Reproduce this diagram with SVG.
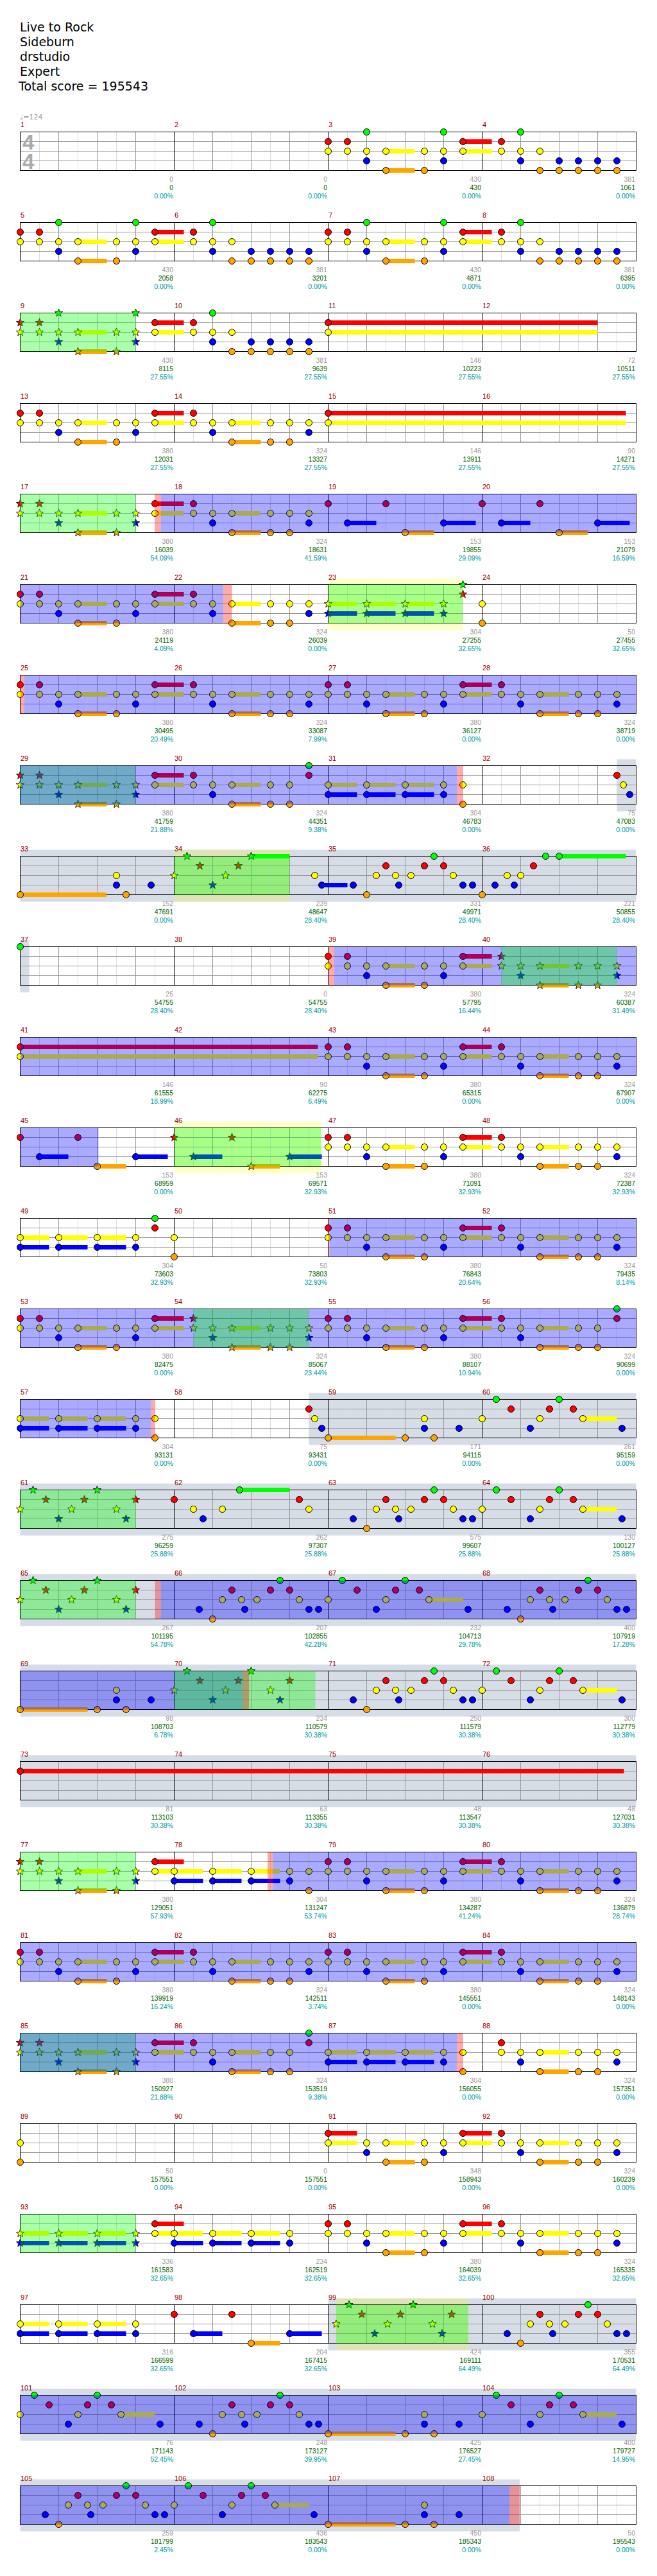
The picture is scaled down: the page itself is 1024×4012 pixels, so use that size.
<svg xmlns="http://www.w3.org/2000/svg" width="1024" height="4012" viewBox="0 0 1024 4012">
<style>
.lt{stroke:#ddd;fill:none}
.ln{stroke:#999;fill:none}
.lk{stroke:#000;fill:none}
.hg{fill:#0f0}.hr{fill:#f00}.hy{fill:#ff0}.hb{fill:#00f}.ho{fill:#ffa500}
.og{fill:#0f0;fill-opacity:.333}.ob{fill:#00f;fill-opacity:.333}.op{fill:#f00;fill-opacity:.333}
.os{fill:#b0bcd0;fill-opacity:.5}.oy{fill:#ff0;fill-opacity:.2}
.t{font-family:"DejaVu Sans",sans-serif;font-size:19px;fill:#000}
.mn{font-family:"Liberation Sans",Arial,sans-serif;font-size:11px;fill:#8b0000}
.s1,.s2,.s3{font-family:"Liberation Sans",Arial,sans-serif;font-size:10.5px;text-anchor:end}
.s1{fill:#999}.s2{fill:#006400}.s3{fill:#009999}
</style>
<defs>
<circle id="ng" r="5" fill="#0f0" stroke="#000"/>
<circle id="nr" r="5" fill="#f00" stroke="#000"/>
<circle id="ny" r="5" fill="#ff0" stroke="#000"/>
<circle id="nb" r="5" fill="#00f" stroke="#000"/>
<circle id="no" r="5" fill="#ffa500" stroke="#000"/>
<path id="sg" d="M0-6.5L1.6-2.2 6.2-2 2.6.8 3.8 5.3 0 2.7-3.8 5.3-2.6.8-6.2-2-1.6-2.2Z" fill="#0f0" stroke="#000" stroke-width=".8"/>
<path id="sr" d="M0-6.5L1.6-2.2 6.2-2 2.6.8 3.8 5.3 0 2.7-3.8 5.3-2.6.8-6.2-2-1.6-2.2Z" fill="#f00" stroke="#000" stroke-width=".8"/>
<path id="sy" d="M0-6.5L1.6-2.2 6.2-2 2.6.8 3.8 5.3 0 2.7-3.8 5.3-2.6.8-6.2-2-1.6-2.2Z" fill="#ff0" stroke="#000" stroke-width=".8"/>
<path id="sb" d="M0-6.5L1.6-2.2 6.2-2 2.6.8 3.8 5.3 0 2.7-3.8 5.3-2.6.8-6.2-2-1.6-2.2Z" fill="#00f" stroke="#000" stroke-width=".8"/>
<path id="so" d="M0-6.5L1.6-2.2 6.2-2 2.6.8 3.8 5.3 0 2.7-3.8 5.3-2.6.8-6.2-2-1.6-2.2Z" fill="#ffa500" stroke="#000" stroke-width=".8"/>
<g id="row">
<path class="lt" d="M30 0v60M90 0v60M150 0v60M210 0v60M270 0v60M330 0v60M390 0v60M450 0v60M510 0v60M570 0v60M630 0v60M690 0v60M750 0v60M810 0v60M870 0v60M930 0v60"/>
<path class="ln" d="M60 0v60M120 0v60M180 0v60M300 0v60M360 0v60M420 0v60M540 0v60M600 0v60M660 0v60M780 0v60M840 0v60M900 0v60M0 15H960M0 30H960M0 45H960"/>
<path class="lk" d="M240 0v60M480 0v60M720 0v60"/>
<rect class="lk" width="960" height="60"/>
</g>
<g id="pA0"><rect class="hy" x="90" y="26.5" width="45" height="7"/><rect class="ho" x="90" y="56.5" width="45" height="7"/><use href="#nr" y="15"/><use href="#ny" y="30"/><use href="#nr" x="30" y="15"/><use href="#ny" x="30" y="30"/><use href="#ny" x="60" y="30"/><use href="#nb" x="60" y="45"/><use href="#ny" x="90" y="30"/><use href="#no" x="90" y="60"/><use href="#ny" x="150" y="30"/><use href="#no" x="150" y="60"/><use href="#ny" x="180" y="30"/><use href="#nb" x="180" y="45"/></g>
<g id="sA0"><rect class="hy" x="90" y="26.5" width="45" height="7"/><rect class="ho" x="90" y="56.5" width="45" height="7"/><use href="#sr" y="15"/><use href="#sy" y="30"/><use href="#sr" x="30" y="15"/><use href="#sy" x="30" y="30"/><use href="#sy" x="60" y="30"/><use href="#sb" x="60" y="45"/><use href="#sy" x="90" y="30"/><use href="#so" x="90" y="60"/><use href="#sy" x="150" y="30"/><use href="#so" x="150" y="60"/><use href="#sy" x="180" y="30"/><use href="#sb" x="180" y="45"/></g>
<g id="pT"><rect class="hr" x="210" y="11.5" width="45" height="7"/><rect class="hy" x="210" y="26.5" width="45" height="7"/><use href="#nr" x="210" y="15"/><use href="#ny" x="210" y="30"/></g>
<g id="pA"><use href="#pA0"/><use href="#pT"/></g>
<g id="pAg"><use href="#pA"/><use href="#ng" x="60"/><use href="#ng" x="180"/></g>
<g id="pB"><use href="#nr" x="30" y="15"/><use href="#ny" x="30" y="30"/><use href="#ng" x="60"/><use href="#ny" x="60" y="30"/><use href="#nb" x="60" y="45"/><use href="#ny" x="90" y="30"/><use href="#no" x="90" y="60"/><use href="#nb" x="120" y="45"/><use href="#no" x="120" y="60"/><use href="#nb" x="150" y="45"/><use href="#no" x="150" y="60"/><use href="#nb" x="180" y="45"/><use href="#no" x="180" y="60"/><use href="#nb" x="210" y="45"/><use href="#no" x="210" y="60"/></g>
<g id="pD0"><rect class="hy" x="90" y="26.5" width="45" height="7"/><rect class="ho" x="90" y="56.5" width="45" height="7"/><use href="#nr" x="30" y="15"/><use href="#ny" x="30" y="30"/><use href="#ny" x="60" y="30"/><use href="#nb" x="60" y="45"/><use href="#ny" x="90" y="30"/><use href="#no" x="90" y="60"/><use href="#ny" x="150" y="30"/><use href="#no" x="150" y="60"/><use href="#ny" x="180" y="30"/><use href="#no" x="180" y="60"/></g>
<g id="pD"><use href="#pD0"/><use href="#ny" x="210" y="30"/><use href="#nb" x="210" y="45"/></g>
<g id="sD"><rect class="hy" x="90" y="26.5" width="45" height="7"/><rect class="ho" x="90" y="56.5" width="45" height="7"/><use href="#sr" x="30" y="15"/><use href="#sy" x="30" y="30"/><use href="#sy" x="60" y="30"/><use href="#sb" x="60" y="45"/><use href="#sy" x="90" y="30"/><use href="#so" x="90" y="60"/><use href="#sy" x="150" y="30"/><use href="#so" x="150" y="60"/><use href="#sy" x="180" y="30"/><use href="#so" x="180" y="60"/><use href="#sy" x="210" y="30"/><use href="#sb" x="210" y="45"/></g>
<g id="pC"><rect class="hb" x="30" y="41.5" width="45" height="7"/><rect class="ho" x="120" y="56.5" width="45" height="7"/><rect class="hb" x="180" y="41.5" width="50" height="7"/><use href="#nr" y="15"/><use href="#nb" x="30" y="45"/><use href="#nr" x="90" y="15"/><use href="#no" x="120" y="60"/><use href="#nb" x="180" y="45"/></g>
<g id="sC"><rect class="hb" x="30" y="41.5" width="45" height="7"/><rect class="ho" x="120" y="56.5" width="45" height="7"/><rect class="hb" x="180" y="41.5" width="50" height="7"/><use href="#sr" y="15"/><use href="#sb" x="30" y="45"/><use href="#sr" x="90" y="15"/><use href="#so" x="120" y="60"/><use href="#sb" x="180" y="45"/></g>
<g id="pE"><rect class="hy" y="26.5" width="45" height="7"/><rect class="hb" y="41.5" width="45" height="7"/><rect class="hy" x="60" y="26.5" width="45" height="7"/><rect class="hb" x="60" y="41.5" width="45" height="7"/><rect class="hy" x="120" y="26.5" width="45" height="7"/><rect class="hb" x="120" y="41.5" width="45" height="7"/><use href="#ny" y="30"/><use href="#nb" y="45"/><use href="#ny" x="60" y="30"/><use href="#nb" x="60" y="45"/><use href="#ny" x="120" y="30"/><use href="#nb" x="120" y="45"/><use href="#ny" x="180" y="30"/><use href="#nb" x="180" y="45"/></g>
<g id="sE"><rect class="hy" y="26.5" width="45" height="7"/><rect class="hb" y="41.5" width="45" height="7"/><rect class="hy" x="60" y="26.5" width="45" height="7"/><rect class="hb" x="60" y="41.5" width="45" height="7"/><rect class="hy" x="120" y="26.5" width="45" height="7"/><rect class="hb" x="120" y="41.5" width="45" height="7"/><use href="#sy" y="30"/><use href="#sb" y="45"/><use href="#sy" x="60" y="30"/><use href="#sb" x="60" y="45"/><use href="#sy" x="120" y="30"/><use href="#sb" x="120" y="45"/><use href="#sy" x="180" y="30"/><use href="#sb" x="180" y="45"/></g>
<g id="q1"><use href="#nb" x="39" y="45"/><use href="#no" x="60" y="60"/><use href="#ny" x="75" y="30"/><use href="#nr" x="90" y="15"/><use href="#ny" x="105" y="30"/><use href="#nb" x="110" y="45"/><use href="#ny" x="129" y="30"/><use href="#nr" x="150" y="15"/><use href="#ng" x="165"/><use href="#nr" x="180" y="15"/><use href="#ny" x="195" y="30"/><use href="#nb" x="210" y="45"/><use href="#nb" x="225" y="45"/></g>
<g id="q3"><rect class="ho" y="56.5" width="105" height="7"/><use href="#no" y="60"/><use href="#no" x="120" y="60"/><use href="#ny" x="150" y="30"/><use href="#nb" x="150" y="45"/><use href="#no" x="165" y="60"/><use href="#nb" x="204" y="45"/></g>
<g id="q4"><use href="#ny" y="30"/><use href="#ng" x="22"/><use href="#nr" x="45" y="15"/><use href="#nb" x="75" y="45"/><use href="#ny" x="90" y="30"/><use href="#nr" x="105" y="15"/><use href="#ng" x="120"/><use href="#nr" x="142" y="15"/><rect class="hy" x="157" y="26.5" width="53" height="7"/><use href="#ny" x="157" y="30"/><use href="#nb" x="218" y="45"/></g>
<g id="qs"><use href="#sy" y="30"/><use href="#sg" x="20"/><use href="#sr" x="40" y="15"/><use href="#sb" x="60" y="45"/><use href="#sy" x="80" y="30"/><use href="#sr" x="100" y="15"/><use href="#sg" x="120"/><use href="#sy" x="150" y="30"/><use href="#sb" x="165" y="45"/><use href="#sr" x="180" y="15"/></g>
</defs>
<rect width="1024" height="4012" fill="#fff"/>
<g id="title" class="t"><text x="31" y="49">Live to Rock</text><text x="31" y="72">Sideburn</text><text x="31" y="95">drstudio</text><text x="31" y="118">Expert</text><text x="29" y="141">Total score = 195543</text></g>
<text x="31" y="186" font-family="DejaVu Sans,sans-serif" font-size="11" fill="#999">♩=124</text>
<g id="bg">
<rect class="oy" x="511.5" y="900.5" width="210" height="81"/>
<rect class="os" x="961.5" y="1182.5" width="30" height="81"/>
<rect class="os" x="31.5" y="1323.5" width="960" height="81"/><rect class="oy" x="271.5" y="1323.5" width="180" height="81"/>
<rect class="os" x="31.5" y="1464.5" width="14" height="81"/>
<rect class="oy" x="271.5" y="1746.5" width="229" height="81"/>
<rect class="os" x="481.5" y="2169.5" width="510" height="81"/>
<rect class="os" x="31.5" y="2310.5" width="960" height="81"/>
<rect class="os" x="31.5" y="2451.5" width="960" height="81"/>
<rect class="os" x="31.5" y="2592.5" width="960" height="81"/>
<rect class="os" x="31.5" y="2733.5" width="960" height="81"/>
<rect class="os" x="511.5" y="3579.5" width="480" height="81"/><rect class="oy" x="524" y="3579.5" width="206" height="81"/>
<rect class="os" x="31.5" y="3720.5" width="960" height="81"/>
<rect class="os" x="31.5" y="3861.5" width="778.5" height="81"/>
</g>
<g id="grid">
<use href="#row" x="31.5" y="205.5"/><use href="#row" x="31.5" y="346.5"/><use href="#row" x="31.5" y="487.5"/><use href="#row" x="31.5" y="628.5"/><use href="#row" x="31.5" y="769.5"/><use href="#row" x="31.5" y="910.5"/><use href="#row" x="31.5" y="1051.5"/><use href="#row" x="31.5" y="1192.5"/><use href="#row" x="31.5" y="1333.5"/><use href="#row" x="31.5" y="1474.5"/><use href="#row" x="31.5" y="1615.5"/><use href="#row" x="31.5" y="1756.5"/><use href="#row" x="31.5" y="1897.5"/><use href="#row" x="31.5" y="2038.5"/><use href="#row" x="31.5" y="2179.5"/><use href="#row" x="31.5" y="2320.5"/><use href="#row" x="31.5" y="2461.5"/><use href="#row" x="31.5" y="2602.5"/><use href="#row" x="31.5" y="2743.5"/><use href="#row" x="31.5" y="2884.5"/><use href="#row" x="31.5" y="3025.5"/><use href="#row" x="31.5" y="3166.5"/><use href="#row" x="31.5" y="3307.5"/><use href="#row" x="31.5" y="3448.5"/><use href="#row" x="31.5" y="3589.5"/><use href="#row" x="31.5" y="3730.5"/><use href="#row" x="31.5" y="3871.5"/>
<g font-family="Liberation Sans,Arial,sans-serif" font-weight="bold" font-size="33" fill="#aaa"><text x="35" y="233">4</text><text x="35" y="263">4</text></g>
</g>
<g id="notes">
<use href="#pAg" x="511.5" y="205.5"/><use href="#pB" x="751.5" y="205.5"/>
<use href="#pAg" x="31.5" y="346.5"/><use href="#pB" x="271.5" y="346.5"/><use href="#pAg" x="511.5" y="346.5"/><use href="#pB" x="751.5" y="346.5"/>
<use href="#sA0" x="31.5" y="487.5"/><use href="#sg" x="91.5" y="487.5"/><use href="#sg" x="211.5" y="487.5"/><use href="#pT" x="31.5" y="487.5"/><use href="#pB" x="271.5" y="487.5"/>
<g transform="translate(511.5 487.5)"><rect class="hr" y="11.5" width="420" height="7"/><rect class="hy" y="26.5" width="420" height="7"/><use href="#nr" y="15"/><use href="#ny" y="30"/></g>
<use href="#pA" x="31.5" y="628.5"/><use href="#pD" x="271.5" y="628.5"/>
<g transform="translate(511.5 628.5)"><rect class="hr" y="11.5" width="464" height="7"/><rect class="hy" y="26.5" width="464" height="7"/><use href="#nr" y="15"/><use href="#ny" y="30"/></g>
<use href="#sA0" x="31.5" y="769.5"/><use href="#pT" x="31.5" y="769.5"/><use href="#pD" x="271.5" y="769.5"/><use href="#pC" x="511.5" y="769.5"/><use href="#pC" x="751.5" y="769.5"/>
<use href="#pA" x="31.5" y="910.5"/><use href="#pD" x="271.5" y="910.5"/><use href="#sE" x="511.5" y="910.5"/><use href="#sg" x="721.5" y="910.5"/><use href="#sr" x="721.5" y="925.5"/><use href="#ny" x="751.5" y="940.5"/><use href="#no" x="751.5" y="970.5"/>
<use href="#pA" x="31.5" y="1051.5"/><use href="#pD" x="271.5" y="1051.5"/><use href="#pA" x="511.5" y="1051.5"/><use href="#pD" x="751.5" y="1051.5"/>
<use href="#sA0" x="31.5" y="1192.5"/><use href="#pT" x="31.5" y="1192.5"/><use href="#pD0" x="271.5" y="1192.5"/><use href="#ng" x="481.5" y="1192.5"/><use href="#nr" x="481.5" y="1207.5"/><use href="#pE" x="511.5" y="1192.5"/><use href="#ny" x="721.5" y="1222.5"/><use href="#no" x="721.5" y="1252.5"/><use href="#nr" x="961.5" y="1207.5"/><use href="#ny" x="971.5" y="1222.5"/><use href="#nb" x="981.5" y="1237.5"/>
<g transform="translate(31.5 1333.5)"><rect class="ho" y="56.5" width="134" height="7"/><use href="#no" y="60"/><use href="#ny" x="150" y="30"/><use href="#nb" x="150" y="45"/><use href="#no" x="165" y="60"/><use href="#nb" x="204" y="45"/></g>
<g transform="translate(271.5 1333.5)"><rect class="hg" x="120" y="-3.5" width="60" height="7"/><use href="#sy" y="30"/><use href="#sg" x="20"/><use href="#sr" x="40" y="15"/><use href="#sb" x="60" y="45"/><use href="#sy" x="80" y="30"/><use href="#sr" x="100" y="15"/><use href="#sg" x="120"/><use href="#ny" x="219" y="30"/><rect class="hb" x="230" y="41.5" width="40" height="7"/><use href="#nb" x="230" y="45"/></g>
<use href="#q1" x="511.5" y="1333.5"/>
<g transform="translate(751.5 1333.5)"><use href="#no" y="60"/><use href="#nb" x="20" y="45"/><use href="#ny" x="39" y="30"/><use href="#nb" x="50" y="45"/><use href="#ny" x="60" y="30"/><use href="#nr" x="80" y="15"/><use href="#ng" x="99"/><rect class="hg" x="120" y="-3.5" width="104" height="7"/><use href="#ng" x="120"/></g>
<use href="#ng" x="31.5" y="1474.5"/><use href="#pA" x="511.5" y="1474.5"/><use href="#sD" x="751.5" y="1474.5"/>
<g transform="translate(31.5 1615.5)"><rect class="hr" y="11.5" width="464" height="7"/><rect class="hy" y="26.5" width="464" height="7"/><use href="#nr" y="15"/><use href="#ny" y="30"/></g>
<use href="#pA" x="511.5" y="1615.5"/><use href="#pD" x="751.5" y="1615.5"/>
<use href="#pC" x="31.5" y="1756.5"/><use href="#sC" x="271.5" y="1756.5"/><use href="#pA" x="511.5" y="1756.5"/><use href="#pD" x="751.5" y="1756.5"/>
<use href="#pE" x="31.5" y="1897.5"/><use href="#ng" x="241.5" y="1897.5"/><use href="#nr" x="241.5" y="1912.5"/><use href="#ny" x="271.5" y="1927.5"/><use href="#no" x="271.5" y="1957.5"/><use href="#pA" x="511.5" y="1897.5"/><use href="#pD" x="751.5" y="1897.5"/>
<use href="#pA" x="31.5" y="2038.5"/><use href="#sD" x="271.5" y="2038.5"/><use href="#pA" x="511.5" y="2038.5"/><use href="#pD0" x="751.5" y="2038.5"/><use href="#ng" x="961.5" y="2038.5"/><use href="#nr" x="961.5" y="2053.5"/>
<use href="#pE" x="31.5" y="2179.5"/><use href="#ny" x="241.5" y="2209.5"/><use href="#no" x="241.5" y="2239.5"/><use href="#nr" x="481.5" y="2194.5"/><use href="#ny" x="490.5" y="2209.5"/><use href="#nb" x="501.5" y="2224.5"/>
<use href="#q3" x="511.5" y="2179.5"/><use href="#q4" x="751.5" y="2179.5"/>
<use href="#qs" x="31.5" y="2320.5"/>
<g transform="translate(271.5 2320.5)"><use href="#nr" y="15"/><use href="#ny" x="30" y="30"/><use href="#nb" x="45" y="45"/><use href="#ny" x="75" y="30"/><rect class="hg" x="102" y="-3.5" width="78" height="7"/><use href="#ng" x="102"/><use href="#nr" x="195" y="15"/><use href="#ny" x="210" y="30"/></g>
<use href="#q1" x="511.5" y="2320.5"/><use href="#q4" x="751.5" y="2320.5"/>
<use href="#qs" x="31.5" y="2461.5"/><use href="#q1" x="271.5" y="2461.5"/><use href="#q4" x="511.5" y="2461.5"/><use href="#q1" x="751.5" y="2461.5"/>
<use href="#q3" x="31.5" y="2602.5"/><use href="#qs" x="271.5" y="2602.5"/><use href="#q1" x="511.5" y="2602.5"/><use href="#q4" x="751.5" y="2602.5"/>
<g transform="translate(31.5 2743.5)"><rect class="hr" y="11.5" width="941" height="7"/><use href="#nr" y="15"/></g>
<use href="#sA0" x="31.5" y="2884.5"/><use href="#pT" x="31.5" y="2884.5"/><use href="#pE" x="271.5" y="2884.5"/><use href="#ny" x="481.5" y="2914.5"/><use href="#no" x="481.5" y="2944.5"/><use href="#pA" x="511.5" y="2884.5"/><use href="#pD" x="751.5" y="2884.5"/>
<use href="#pA" x="31.5" y="3025.5"/><use href="#pD" x="271.5" y="3025.5"/><use href="#pA" x="511.5" y="3025.5"/><use href="#pD" x="751.5" y="3025.5"/>
<use href="#sA0" x="31.5" y="3166.5"/><use href="#pT" x="31.5" y="3166.5"/><use href="#pD0" x="271.5" y="3166.5"/><use href="#ng" x="481.5" y="3166.5"/><use href="#nr" x="481.5" y="3181.5"/><use href="#pE" x="511.5" y="3166.5"/><use href="#ny" x="721.5" y="3196.5"/><use href="#no" x="721.5" y="3226.5"/><use href="#pD" x="751.5" y="3166.5"/>
<use href="#ny" x="31.5" y="3337.5"/><use href="#no" x="31.5" y="3367.5"/>
<g transform="translate(511.5 3307.5)"><rect class="hr" y="11.5" width="45" height="7"/><rect class="hy" y="26.5" width="45" height="7"/><use href="#nr" y="15"/><use href="#ny" y="30"/><use href="#ny" x="60" y="30"/><use href="#nb" x="60" y="45"/><rect class="hy" x="90" y="26.5" width="45" height="7"/><rect class="ho" x="90" y="56.5" width="45" height="7"/><use href="#ny" x="90" y="30"/><use href="#no" x="90" y="60"/><use href="#ny" x="150" y="30"/><use href="#no" x="150" y="60"/><use href="#ny" x="180" y="30"/><use href="#nb" x="180" y="45"/><use href="#pT"/></g>
<use href="#pD" x="751.5" y="3307.5"/>
<use href="#sE" x="31.5" y="3448.5"/><use href="#pT" x="31.5" y="3448.5"/><use href="#pE" x="271.5" y="3448.5"/><use href="#pA" x="511.5" y="3448.5"/><use href="#pD" x="751.5" y="3448.5"/>
<use href="#pE" x="31.5" y="3589.5"/><use href="#pC" x="271.5" y="3589.5"/><use href="#qs" x="524" y="3589.5"/><use href="#q1" x="751.5" y="3589.5"/>
<use href="#q4" x="31.5" y="3730.5"/><use href="#q1" x="271.5" y="3730.5"/><use href="#q3" x="511.5" y="3730.5"/><use href="#q4" x="751.5" y="3730.5"/>
<use href="#q1" x="31.5" y="3871.5"/><use href="#q4" x="271.5" y="3871.5"/><use href="#q3" x="511.5" y="3871.5"/>
</g>
<g id="ov">
<rect class="og" x="31.5" y="487.5" width="180" height="60"/>
<rect class="og" x="31.5" y="769.5" width="180" height="60"/><rect class="op" x="241.5" y="769.5" width="9" height="60"/><rect class="ob" x="250.5" y="769.5" width="741" height="60"/>
<rect class="ob" x="31.5" y="910.5" width="316.5" height="60"/><rect class="op" x="348" y="910.5" width="13" height="60"/><rect class="og" x="511.5" y="910.5" width="210" height="60"/>
<rect class="op" x="31.5" y="1051.5" width="6" height="60"/><rect class="ob" x="37.5" y="1051.5" width="954" height="60"/>
<rect class="og" x="31.5" y="1192.5" width="180" height="60"/><rect class="ob" x="31.5" y="1192.5" width="680.5" height="60"/><rect class="op" x="712" y="1192.5" width="9.5" height="60"/>
<rect class="og" x="271.5" y="1333.5" width="180" height="60"/>
<rect class="op" x="511.5" y="1474.5" width="9" height="60"/><rect class="ob" x="520.5" y="1474.5" width="471" height="60"/><rect class="og" x="781.5" y="1474.5" width="180" height="60"/>
<rect class="ob" x="31.5" y="1615.5" width="960" height="60"/>
<rect class="ob" x="31.5" y="1756.5" width="122" height="60"/><rect class="og" x="271.5" y="1756.5" width="229" height="60"/>
<rect class="op" x="511.5" y="1897.5" width="2" height="60"/><rect class="ob" x="513.5" y="1897.5" width="478" height="60"/>
<rect class="ob" x="31.5" y="2038.5" width="960" height="60"/><rect class="og" x="301.5" y="2038.5" width="180" height="60"/>
<rect class="ob" x="31.5" y="2179.5" width="204" height="60"/><rect class="op" x="235.5" y="2179.5" width="6" height="60"/>
<rect class="og" x="31.5" y="2320.5" width="180" height="60"/>
<rect class="og" x="31.5" y="2461.5" width="180" height="60"/><rect class="op" x="241.5" y="2461.5" width="9" height="60"/><rect class="ob" x="250.5" y="2461.5" width="741" height="60"/>
<rect class="ob" x="31.5" y="2602.5" width="347.5" height="60"/><rect class="og" x="271.5" y="2602.5" width="220" height="60"/><rect class="op" x="379" y="2602.5" width="9" height="60"/>
<rect class="og" x="31.5" y="2884.5" width="180" height="60"/><rect class="op" x="417" y="2884.5" width="8" height="60"/><rect class="ob" x="425" y="2884.5" width="566.5" height="60"/>
<rect class="ob" x="31.5" y="3025.5" width="960" height="60"/>
<rect class="og" x="31.5" y="3166.5" width="180" height="60"/><rect class="ob" x="31.5" y="3166.5" width="680.5" height="60"/><rect class="op" x="712" y="3166.5" width="9.5" height="60"/>
<rect class="og" x="31.5" y="3448.5" width="180" height="60"/>
<rect class="og" x="524" y="3589.5" width="206" height="60"/>
<rect class="ob" x="31.5" y="3730.5" width="960" height="60"/>
<rect class="ob" x="31.5" y="3871.5" width="762.5" height="60"/><rect class="op" x="794" y="3871.5" width="16" height="60"/>
</g>
<g id="labels">
<g transform="translate(0 205.5)"><text class="mn" x="32" y="-8">1</text><text class="mn" x="272" y="-8">2</text><text class="mn" x="512" y="-8">3</text><text class="mn" x="752" y="-8">4</text>
<text class="s1" x="270" y="77">0</text><text class="s2" x="270" y="90">0</text><text class="s3" x="270" y="103">0.00%</text>
<text class="s1" x="510" y="77">0</text><text class="s2" x="510" y="90">0</text><text class="s3" x="510" y="103">0.00%</text>
<text class="s1" x="750" y="77">430</text><text class="s2" x="750" y="90">430</text><text class="s3" x="750" y="103">0.00%</text>
<text class="s1" x="990" y="77">381</text><text class="s2" x="990" y="90">1061</text><text class="s3" x="990" y="103">0.00%</text></g>
<g transform="translate(0 346.5)"><text class="mn" x="32" y="-8">5</text><text class="mn" x="272" y="-8">6</text><text class="mn" x="512" y="-8">7</text><text class="mn" x="752" y="-8">8</text>
<text class="s1" x="270" y="77">430</text><text class="s2" x="270" y="90">2058</text><text class="s3" x="270" y="103">0.00%</text>
<text class="s1" x="510" y="77">381</text><text class="s2" x="510" y="90">3201</text><text class="s3" x="510" y="103">0.00%</text>
<text class="s1" x="750" y="77">430</text><text class="s2" x="750" y="90">4871</text><text class="s3" x="750" y="103">0.00%</text>
<text class="s1" x="990" y="77">381</text><text class="s2" x="990" y="90">6395</text><text class="s3" x="990" y="103">0.00%</text></g>
<g transform="translate(0 487.5)"><text class="mn" x="32" y="-8">9</text><text class="mn" x="272" y="-8">10</text><text class="mn" x="512" y="-8">11</text><text class="mn" x="752" y="-8">12</text>
<text class="s1" x="270" y="77">430</text><text class="s2" x="270" y="90">8115</text><text class="s3" x="270" y="103">27.55%</text>
<text class="s1" x="510" y="77">381</text><text class="s2" x="510" y="90">9639</text><text class="s3" x="510" y="103">27.55%</text>
<text class="s1" x="750" y="77">146</text><text class="s2" x="750" y="90">10223</text><text class="s3" x="750" y="103">27.55%</text>
<text class="s1" x="990" y="77">72</text><text class="s2" x="990" y="90">10511</text><text class="s3" x="990" y="103">27.55%</text></g>
<g transform="translate(0 628.5)"><text class="mn" x="32" y="-8">13</text><text class="mn" x="272" y="-8">14</text><text class="mn" x="512" y="-8">15</text><text class="mn" x="752" y="-8">16</text>
<text class="s1" x="270" y="77">380</text><text class="s2" x="270" y="90">12031</text><text class="s3" x="270" y="103">27.55%</text>
<text class="s1" x="510" y="77">324</text><text class="s2" x="510" y="90">13327</text><text class="s3" x="510" y="103">27.55%</text>
<text class="s1" x="750" y="77">146</text><text class="s2" x="750" y="90">13911</text><text class="s3" x="750" y="103">27.55%</text>
<text class="s1" x="990" y="77">90</text><text class="s2" x="990" y="90">14271</text><text class="s3" x="990" y="103">27.55%</text></g>
<g transform="translate(0 769.5)"><text class="mn" x="32" y="-8">17</text><text class="mn" x="272" y="-8">18</text><text class="mn" x="512" y="-8">19</text><text class="mn" x="752" y="-8">20</text>
<text class="s1" x="270" y="77">380</text><text class="s2" x="270" y="90">16039</text><text class="s3" x="270" y="103">54.09%</text>
<text class="s1" x="510" y="77">324</text><text class="s2" x="510" y="90">18631</text><text class="s3" x="510" y="103">41.59%</text>
<text class="s1" x="750" y="77">153</text><text class="s2" x="750" y="90">19855</text><text class="s3" x="750" y="103">29.09%</text>
<text class="s1" x="990" y="77">153</text><text class="s2" x="990" y="90">21079</text><text class="s3" x="990" y="103">16.59%</text></g>
<g transform="translate(0 910.5)"><text class="mn" x="32" y="-8">21</text><text class="mn" x="272" y="-8">22</text><text class="mn" x="512" y="-8">23</text><text class="mn" x="752" y="-8">24</text>
<text class="s1" x="270" y="77">380</text><text class="s2" x="270" y="90">24119</text><text class="s3" x="270" y="103">4.09%</text>
<text class="s1" x="510" y="77">324</text><text class="s2" x="510" y="90">26039</text><text class="s3" x="510" y="103">0.00%</text>
<text class="s1" x="750" y="77">304</text><text class="s2" x="750" y="90">27255</text><text class="s3" x="750" y="103">32.65%</text>
<text class="s1" x="990" y="77">50</text><text class="s2" x="990" y="90">27455</text><text class="s3" x="990" y="103">32.65%</text></g>
<g transform="translate(0 1051.5)"><text class="mn" x="32" y="-8">25</text><text class="mn" x="272" y="-8">26</text><text class="mn" x="512" y="-8">27</text><text class="mn" x="752" y="-8">28</text>
<text class="s1" x="270" y="77">380</text><text class="s2" x="270" y="90">30495</text><text class="s3" x="270" y="103">20.49%</text>
<text class="s1" x="510" y="77">324</text><text class="s2" x="510" y="90">33087</text><text class="s3" x="510" y="103">7.99%</text>
<text class="s1" x="750" y="77">380</text><text class="s2" x="750" y="90">36127</text><text class="s3" x="750" y="103">0.00%</text>
<text class="s1" x="990" y="77">324</text><text class="s2" x="990" y="90">38719</text><text class="s3" x="990" y="103">0.00%</text></g>
<g transform="translate(0 1192.5)"><text class="mn" x="32" y="-8">29</text><text class="mn" x="272" y="-8">30</text><text class="mn" x="512" y="-8">31</text><text class="mn" x="752" y="-8">32</text>
<text class="s1" x="270" y="77">380</text><text class="s2" x="270" y="90">41759</text><text class="s3" x="270" y="103">21.88%</text>
<text class="s1" x="510" y="77">324</text><text class="s2" x="510" y="90">44351</text><text class="s3" x="510" y="103">9.38%</text>
<text class="s1" x="750" y="77">304</text><text class="s2" x="750" y="90">46783</text><text class="s3" x="750" y="103">0.00%</text>
<text class="s1" x="990" y="77">75</text><text class="s2" x="990" y="90">47083</text><text class="s3" x="990" y="103">0.00%</text></g>
<g transform="translate(0 1333.5)"><text class="mn" x="32" y="-8">33</text><text class="mn" x="272" y="-8">34</text><text class="mn" x="512" y="-8">35</text><text class="mn" x="752" y="-8">36</text>
<text class="s1" x="270" y="77">152</text><text class="s2" x="270" y="90">47691</text><text class="s3" x="270" y="103">0.00%</text>
<text class="s1" x="510" y="77">239</text><text class="s2" x="510" y="90">48647</text><text class="s3" x="510" y="103">28.40%</text>
<text class="s1" x="750" y="77">331</text><text class="s2" x="750" y="90">49971</text><text class="s3" x="750" y="103">28.40%</text>
<text class="s1" x="990" y="77">221</text><text class="s2" x="990" y="90">50855</text><text class="s3" x="990" y="103">28.40%</text></g>
<g transform="translate(0 1474.5)"><text class="mn" x="32" y="-8">37</text><text class="mn" x="272" y="-8">38</text><text class="mn" x="512" y="-8">39</text><text class="mn" x="752" y="-8">40</text>
<text class="s1" x="270" y="77">25</text><text class="s2" x="270" y="90">54755</text><text class="s3" x="270" y="103">28.40%</text>
<text class="s1" x="510" y="77">0</text><text class="s2" x="510" y="90">54755</text><text class="s3" x="510" y="103">28.40%</text>
<text class="s1" x="750" y="77">380</text><text class="s2" x="750" y="90">57795</text><text class="s3" x="750" y="103">16.44%</text>
<text class="s1" x="990" y="77">324</text><text class="s2" x="990" y="90">60387</text><text class="s3" x="990" y="103">31.49%</text></g>
<g transform="translate(0 1615.5)"><text class="mn" x="32" y="-8">41</text><text class="mn" x="272" y="-8">42</text><text class="mn" x="512" y="-8">43</text><text class="mn" x="752" y="-8">44</text>
<text class="s1" x="270" y="77">146</text><text class="s2" x="270" y="90">61555</text><text class="s3" x="270" y="103">18.99%</text>
<text class="s1" x="510" y="77">90</text><text class="s2" x="510" y="90">62275</text><text class="s3" x="510" y="103">6.49%</text>
<text class="s1" x="750" y="77">380</text><text class="s2" x="750" y="90">65315</text><text class="s3" x="750" y="103">0.00%</text>
<text class="s1" x="990" y="77">324</text><text class="s2" x="990" y="90">67907</text><text class="s3" x="990" y="103">0.00%</text></g>
<g transform="translate(0 1756.5)"><text class="mn" x="32" y="-8">45</text><text class="mn" x="272" y="-8">46</text><text class="mn" x="512" y="-8">47</text><text class="mn" x="752" y="-8">48</text>
<text class="s1" x="270" y="77">153</text><text class="s2" x="270" y="90">68959</text><text class="s3" x="270" y="103">0.00%</text>
<text class="s1" x="510" y="77">153</text><text class="s2" x="510" y="90">69571</text><text class="s3" x="510" y="103">32.93%</text>
<text class="s1" x="750" y="77">380</text><text class="s2" x="750" y="90">71091</text><text class="s3" x="750" y="103">32.93%</text>
<text class="s1" x="990" y="77">324</text><text class="s2" x="990" y="90">72387</text><text class="s3" x="990" y="103">32.93%</text></g>
<g transform="translate(0 1897.5)"><text class="mn" x="32" y="-8">49</text><text class="mn" x="272" y="-8">50</text><text class="mn" x="512" y="-8">51</text><text class="mn" x="752" y="-8">52</text>
<text class="s1" x="270" y="77">304</text><text class="s2" x="270" y="90">73603</text><text class="s3" x="270" y="103">32.93%</text>
<text class="s1" x="510" y="77">50</text><text class="s2" x="510" y="90">73803</text><text class="s3" x="510" y="103">32.93%</text>
<text class="s1" x="750" y="77">380</text><text class="s2" x="750" y="90">76843</text><text class="s3" x="750" y="103">20.64%</text>
<text class="s1" x="990" y="77">324</text><text class="s2" x="990" y="90">79435</text><text class="s3" x="990" y="103">8.14%</text></g>
<g transform="translate(0 2038.5)"><text class="mn" x="32" y="-8">53</text><text class="mn" x="272" y="-8">54</text><text class="mn" x="512" y="-8">55</text><text class="mn" x="752" y="-8">56</text>
<text class="s1" x="270" y="77">380</text><text class="s2" x="270" y="90">82475</text><text class="s3" x="270" y="103">0.00%</text>
<text class="s1" x="510" y="77">324</text><text class="s2" x="510" y="90">85067</text><text class="s3" x="510" y="103">23.44%</text>
<text class="s1" x="750" y="77">380</text><text class="s2" x="750" y="90">88107</text><text class="s3" x="750" y="103">10.94%</text>
<text class="s1" x="990" y="77">324</text><text class="s2" x="990" y="90">90699</text><text class="s3" x="990" y="103">0.00%</text></g>
<g transform="translate(0 2179.5)"><text class="mn" x="32" y="-8">57</text><text class="mn" x="272" y="-8">58</text><text class="mn" x="512" y="-8">59</text><text class="mn" x="752" y="-8">60</text>
<text class="s1" x="270" y="77">304</text><text class="s2" x="270" y="90">93131</text><text class="s3" x="270" y="103">0.00%</text>
<text class="s1" x="510" y="77">75</text><text class="s2" x="510" y="90">93431</text><text class="s3" x="510" y="103">0.00%</text>
<text class="s1" x="750" y="77">171</text><text class="s2" x="750" y="90">94115</text><text class="s3" x="750" y="103">0.00%</text>
<text class="s1" x="990" y="77">261</text><text class="s2" x="990" y="90">95159</text><text class="s3" x="990" y="103">0.00%</text></g>
<g transform="translate(0 2320.5)"><text class="mn" x="32" y="-8">61</text><text class="mn" x="272" y="-8">62</text><text class="mn" x="512" y="-8">63</text><text class="mn" x="752" y="-8">64</text>
<text class="s1" x="270" y="77">275</text><text class="s2" x="270" y="90">96259</text><text class="s3" x="270" y="103">25.88%</text>
<text class="s1" x="510" y="77">262</text><text class="s2" x="510" y="90">97307</text><text class="s3" x="510" y="103">25.88%</text>
<text class="s1" x="750" y="77">575</text><text class="s2" x="750" y="90">99607</text><text class="s3" x="750" y="103">25.88%</text>
<text class="s1" x="990" y="77">130</text><text class="s2" x="990" y="90">100127</text><text class="s3" x="990" y="103">25.88%</text></g>
<g transform="translate(0 2461.5)"><text class="mn" x="32" y="-8">65</text><text class="mn" x="272" y="-8">66</text><text class="mn" x="512" y="-8">67</text><text class="mn" x="752" y="-8">68</text>
<text class="s1" x="270" y="77">267</text><text class="s2" x="270" y="90">101195</text><text class="s3" x="270" y="103">54.78%</text>
<text class="s1" x="510" y="77">207</text><text class="s2" x="510" y="90">102855</text><text class="s3" x="510" y="103">42.28%</text>
<text class="s1" x="750" y="77">232</text><text class="s2" x="750" y="90">104713</text><text class="s3" x="750" y="103">29.78%</text>
<text class="s1" x="990" y="77">400</text><text class="s2" x="990" y="90">107919</text><text class="s3" x="990" y="103">17.28%</text></g>
<g transform="translate(0 2602.5)"><text class="mn" x="32" y="-8">69</text><text class="mn" x="272" y="-8">70</text><text class="mn" x="512" y="-8">71</text><text class="mn" x="752" y="-8">72</text>
<text class="s1" x="270" y="77">98</text><text class="s2" x="270" y="90">108703</text><text class="s3" x="270" y="103">6.78%</text>
<text class="s1" x="510" y="77">234</text><text class="s2" x="510" y="90">110579</text><text class="s3" x="510" y="103">30.38%</text>
<text class="s1" x="750" y="77">250</text><text class="s2" x="750" y="90">111579</text><text class="s3" x="750" y="103">30.38%</text>
<text class="s1" x="990" y="77">300</text><text class="s2" x="990" y="90">112779</text><text class="s3" x="990" y="103">30.38%</text></g>
<g transform="translate(0 2743.5)"><text class="mn" x="32" y="-8">73</text><text class="mn" x="272" y="-8">74</text><text class="mn" x="512" y="-8">75</text><text class="mn" x="752" y="-8">76</text>
<text class="s1" x="270" y="77">81</text><text class="s2" x="270" y="90">113103</text><text class="s3" x="270" y="103">30.38%</text>
<text class="s1" x="510" y="77">63</text><text class="s2" x="510" y="90">113355</text><text class="s3" x="510" y="103">30.38%</text>
<text class="s1" x="750" y="77">48</text><text class="s2" x="750" y="90">113547</text><text class="s3" x="750" y="103">30.38%</text>
<text class="s1" x="990" y="77">48</text><text class="s2" x="990" y="90">127031</text><text class="s3" x="990" y="103">30.38%</text></g>
<g transform="translate(0 2884.5)"><text class="mn" x="32" y="-8">77</text><text class="mn" x="272" y="-8">78</text><text class="mn" x="512" y="-8">79</text><text class="mn" x="752" y="-8">80</text>
<text class="s1" x="270" y="77">380</text><text class="s2" x="270" y="90">129051</text><text class="s3" x="270" y="103">57.93%</text>
<text class="s1" x="510" y="77">304</text><text class="s2" x="510" y="90">131247</text><text class="s3" x="510" y="103">53.74%</text>
<text class="s1" x="750" y="77">380</text><text class="s2" x="750" y="90">134287</text><text class="s3" x="750" y="103">41.24%</text>
<text class="s1" x="990" y="77">324</text><text class="s2" x="990" y="90">136879</text><text class="s3" x="990" y="103">28.74%</text></g>
<g transform="translate(0 3025.5)"><text class="mn" x="32" y="-8">81</text><text class="mn" x="272" y="-8">82</text><text class="mn" x="512" y="-8">83</text><text class="mn" x="752" y="-8">84</text>
<text class="s1" x="270" y="77">380</text><text class="s2" x="270" y="90">139919</text><text class="s3" x="270" y="103">16.24%</text>
<text class="s1" x="510" y="77">324</text><text class="s2" x="510" y="90">142511</text><text class="s3" x="510" y="103">3.74%</text>
<text class="s1" x="750" y="77">380</text><text class="s2" x="750" y="90">145551</text><text class="s3" x="750" y="103">0.00%</text>
<text class="s1" x="990" y="77">324</text><text class="s2" x="990" y="90">148143</text><text class="s3" x="990" y="103">0.00%</text></g>
<g transform="translate(0 3166.5)"><text class="mn" x="32" y="-8">85</text><text class="mn" x="272" y="-8">86</text><text class="mn" x="512" y="-8">87</text><text class="mn" x="752" y="-8">88</text>
<text class="s1" x="270" y="77">380</text><text class="s2" x="270" y="90">150927</text><text class="s3" x="270" y="103">21.88%</text>
<text class="s1" x="510" y="77">324</text><text class="s2" x="510" y="90">153519</text><text class="s3" x="510" y="103">9.38%</text>
<text class="s1" x="750" y="77">304</text><text class="s2" x="750" y="90">156055</text><text class="s3" x="750" y="103">0.00%</text>
<text class="s1" x="990" y="77">324</text><text class="s2" x="990" y="90">157351</text><text class="s3" x="990" y="103">0.00%</text></g>
<g transform="translate(0 3307.5)"><text class="mn" x="32" y="-8">89</text><text class="mn" x="272" y="-8">90</text><text class="mn" x="512" y="-8">91</text><text class="mn" x="752" y="-8">92</text>
<text class="s1" x="270" y="77">50</text><text class="s2" x="270" y="90">157551</text><text class="s3" x="270" y="103">0.00%</text>
<text class="s1" x="510" y="77">0</text><text class="s2" x="510" y="90">157551</text><text class="s3" x="510" y="103">0.00%</text>
<text class="s1" x="750" y="77">348</text><text class="s2" x="750" y="90">158943</text><text class="s3" x="750" y="103">0.00%</text>
<text class="s1" x="990" y="77">324</text><text class="s2" x="990" y="90">160239</text><text class="s3" x="990" y="103">0.00%</text></g>
<g transform="translate(0 3448.5)"><text class="mn" x="32" y="-8">93</text><text class="mn" x="272" y="-8">94</text><text class="mn" x="512" y="-8">95</text><text class="mn" x="752" y="-8">96</text>
<text class="s1" x="270" y="77">336</text><text class="s2" x="270" y="90">161583</text><text class="s3" x="270" y="103">32.65%</text>
<text class="s1" x="510" y="77">234</text><text class="s2" x="510" y="90">162519</text><text class="s3" x="510" y="103">32.65%</text>
<text class="s1" x="750" y="77">380</text><text class="s2" x="750" y="90">164039</text><text class="s3" x="750" y="103">32.65%</text>
<text class="s1" x="990" y="77">324</text><text class="s2" x="990" y="90">165335</text><text class="s3" x="990" y="103">32.65%</text></g>
<g transform="translate(0 3589.5)"><text class="mn" x="32" y="-8">97</text><text class="mn" x="272" y="-8">98</text><text class="mn" x="512" y="-8">99</text><text class="mn" x="752" y="-8">100</text>
<text class="s1" x="270" y="77">316</text><text class="s2" x="270" y="90">166599</text><text class="s3" x="270" y="103">32.65%</text>
<text class="s1" x="510" y="77">204</text><text class="s2" x="510" y="90">167415</text><text class="s3" x="510" y="103">32.65%</text>
<text class="s1" x="750" y="77">424</text><text class="s2" x="750" y="90">169111</text><text class="s3" x="750" y="103">64.49%</text>
<text class="s1" x="990" y="77">355</text><text class="s2" x="990" y="90">170531</text><text class="s3" x="990" y="103">64.49%</text></g>
<g transform="translate(0 3730.5)"><text class="mn" x="32" y="-8">101</text><text class="mn" x="272" y="-8">102</text><text class="mn" x="512" y="-8">103</text><text class="mn" x="752" y="-8">104</text>
<text class="s1" x="270" y="77">76</text><text class="s2" x="270" y="90">171143</text><text class="s3" x="270" y="103">52.45%</text>
<text class="s1" x="510" y="77">248</text><text class="s2" x="510" y="90">173127</text><text class="s3" x="510" y="103">39.95%</text>
<text class="s1" x="750" y="77">425</text><text class="s2" x="750" y="90">176527</text><text class="s3" x="750" y="103">27.45%</text>
<text class="s1" x="990" y="77">400</text><text class="s2" x="990" y="90">179727</text><text class="s3" x="990" y="103">14.95%</text></g>
<g transform="translate(0 3871.5)"><text class="mn" x="32" y="-8">105</text><text class="mn" x="272" y="-8">106</text><text class="mn" x="512" y="-8">107</text><text class="mn" x="752" y="-8">108</text>
<text class="s1" x="270" y="77">259</text><text class="s2" x="270" y="90">181799</text><text class="s3" x="270" y="103">2.45%</text>
<text class="s1" x="510" y="77">436</text><text class="s2" x="510" y="90">183543</text><text class="s3" x="510" y="103">0.00%</text>
<text class="s1" x="750" y="77">450</text><text class="s2" x="750" y="90">185343</text><text class="s3" x="750" y="103">0.00%</text>
<text class="s1" x="990" y="77">50</text><text class="s2" x="990" y="90">195543</text><text class="s3" x="990" y="103">0.00%</text></g>
</g>
</svg>
